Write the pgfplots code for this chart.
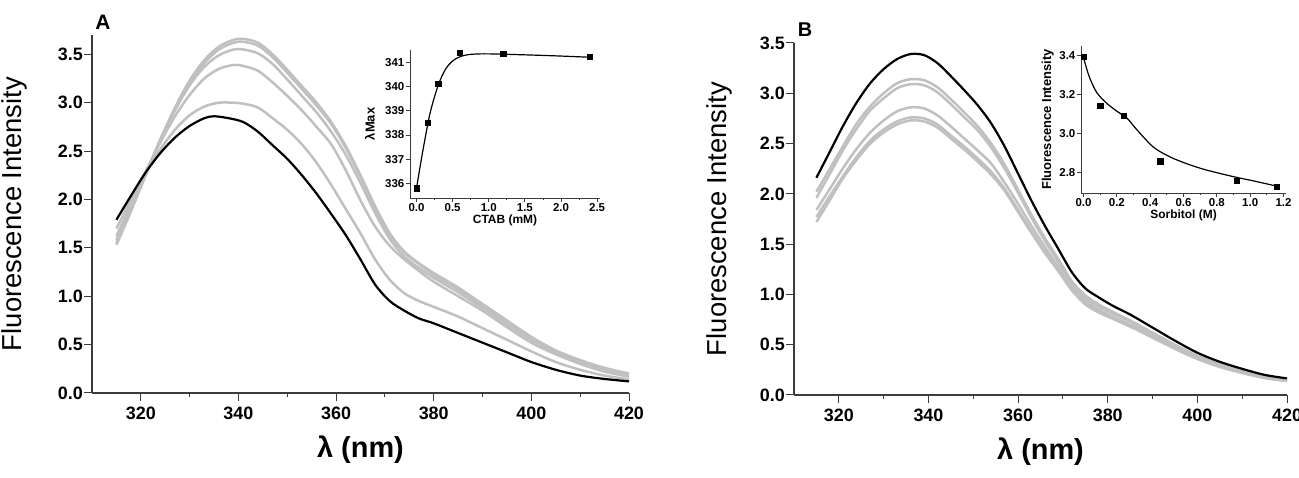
\documentclass[border=0pt]{standalone}
\usepackage{fontspec}
\setmainfont{Liberation Sans}
\usepackage{pgfplots}
\usepackage{pgfplotstable}
\pgfplotsset{compat=1.18}

\definecolor{lgray}{RGB}{192,192,192}
\definecolor{axgray}{RGB}{60,60,60}

\pgfplotstableread{
x g1 g2 g3 g4 g5
315 1.53 1.55 1.58 1.62 1.70
318 1.88 1.90 1.92 1.96 2.00
321 2.25 2.26 2.27 2.29 2.28
324 2.62 2.62 2.61 2.59 2.52
327 2.95 2.94 2.92 2.86 2.72
330 3.23 3.21 3.18 3.08 2.87
333 3.44 3.41 3.37 3.25 2.96
336 3.58 3.55 3.49 3.35 3.00
339 3.65 3.62 3.55 3.39 3.00
341 3.66 3.63 3.55 3.38 2.99
344 3.62 3.59 3.51 3.33 2.95
347 3.50 3.47 3.40 3.21 2.84
350 3.34 3.31 3.24 3.07 2.72
353 3.17 3.14 3.07 2.92 2.57
356 3.00 2.97 2.90 2.75 2.38
359 2.80 2.78 2.70 2.57 2.15
362 2.55 2.53 2.46 2.30 1.90
365 2.25 2.23 2.17 1.99 1.65
368 1.93 1.91 1.86 1.72 1.38
371 1.65 1.63 1.59 1.52 1.17
374 1.46 1.45 1.41 1.38 1.03
377 1.34 1.33 1.29 1.26 0.95
380 1.24 1.22 1.19 1.15 0.89
385 1.09 1.07 1.04 1.00 0.79
390 0.92 0.90 0.88 0.85 0.67
395 0.75 0.72 0.71 0.68 0.55
400 0.58 0.56 0.55 0.52 0.43
405 0.44 0.43 0.42 0.40 0.32
410 0.34 0.33 0.32 0.30 0.24
415 0.26 0.25 0.245 0.22 0.18
420 0.20 0.20 0.195 0.17 0.14
}\grayA

\pgfplotstableread{
x b
315 1.79
318 2.04
321 2.28
324 2.48
327 2.64
330 2.76
333 2.84
335 2.86
338 2.84
341 2.80
344 2.70
347 2.56
350 2.42
353 2.25
356 2.06
359 1.85
362 1.63
365 1.38
368 1.12
371 0.95
374 0.85
377 0.77
380 0.72
385 0.62
390 0.52
395 0.42
400 0.32
405 0.24
410 0.18
415 0.145
420 0.12
}\blackA

\pgfplotstableread{
x b g1 g2 g3 g4 g5
315 2.16 2.02 1.96 1.84 1.77 1.72
318 2.42 2.25 2.20 2.05 1.98 1.94
321 2.68 2.48 2.44 2.26 2.18 2.16
324 2.91 2.70 2.65 2.45 2.37 2.34
327 3.10 2.87 2.83 2.61 2.53 2.50
330 3.24 3.00 2.95 2.73 2.64 2.61
333 3.34 3.10 3.05 2.82 2.72 2.69
336 3.39 3.14 3.09 2.86 2.76 2.73
339 3.38 3.13 3.08 2.85 2.75 2.72
342 3.30 3.06 3.01 2.78 2.69 2.66
345 3.17 2.94 2.89 2.67 2.58 2.55
348 3.03 2.81 2.76 2.55 2.47 2.44
351 2.88 2.67 2.63 2.43 2.35 2.32
354 2.70 2.50 2.46 2.30 2.22 2.19
357 2.47 2.29 2.25 2.11 2.05 2.03
360 2.20 2.04 2.01 1.90 1.84 1.82
363 1.93 1.79 1.76 1.68 1.63 1.61
366 1.68 1.56 1.53 1.47 1.43 1.41
369 1.45 1.35 1.32 1.27 1.24 1.23
372 1.22 1.13 1.11 1.07 1.05 1.04
375 1.06 0.99 0.96 0.93 0.91 0.90
378 0.97 0.90 0.88 0.85 0.83 0.82
381 0.89 0.83 0.81 0.78 0.77 0.76
385 0.80 0.74 0.73 0.70 0.69 0.68
390 0.67 0.62 0.61 0.59 0.58 0.57
395 0.54 0.50 0.49 0.48 0.46 0.46
400 0.42 0.39 0.38 0.37 0.36 0.36
405 0.33 0.31 0.30 0.29 0.28 0.28
410 0.26 0.24 0.24 0.23 0.22 0.22
415 0.20 0.19 0.18 0.176 0.17 0.17
420 0.165 0.153 0.15 0.145 0.14 0.14
}\tabB

\pgfplotsset{
  mainax/.style={
    scale only axis,
    axis lines=left,
    axis line style={-, line width=1.1bp, axgray},
    every tick/.style={line width=1bp, axgray},
    tick align=outside,
    major tick length=8bp,
    minor tick length=4bp,
    xmin=310, xmax=420,
    xtick={320,340,...,420},
    minor x tick num=1,
    ymin=0,
    ytick={0,0.5,...,3.5},
    /pgf/number format/assume math mode=true,
    tick label style={font=\bfseries\fontsize{18}{18}\selectfont},
    yticklabel style={/pgf/number format/.cd, fixed, fixed zerofill, precision=1, /tikz/.cd, inner sep=1bp},
    xticklabel style={yshift=-2bp},
    xlabel={λ (nm)},
    xlabel style={font=\bfseries\fontsize{29}{29}\selectfont, at={(axis description cs:0.5,0)}, anchor=north, inner sep=0pt, yshift=-43bp},
    ylabel={Fluorescence Intensity},
    ylabel style={font=\fontsize{27.5}{27.5}\selectfont, at={(axis description cs:0,0.5)}, anchor=south, inner sep=0pt},
    clip=false,
  },
  inax/.style={
    scale only axis,
    axis lines=left,
    axis line style={-, line width=0.9bp, axgray},
    every tick/.style={line width=0.8bp, axgray},
    tick align=outside,
    major tick length=4bp,
    minor tick length=2.5bp,
    minor x tick num=1,
    /pgf/number format/assume math mode=true,
    tick label style={font=\bfseries\fontsize{11.5}{12}\selectfont, inner sep=1.5bp},
    ticklabel style={/pgf/number format/.cd, fixed, fixed zerofill, precision=1},
    xlabel style={font=\bfseries\fontsize{12}{12}\selectfont, at={(axis description cs:0.5,0)}, anchor=north, inner sep=0pt, yshift=-17bp},
    ylabel style={font=\fontsize{13}{13}\selectfont, at={(axis description cs:0,0.5)}, anchor=south, inner sep=0pt},
  },
}

\begin{document}
\begin{tikzpicture}[x=1bp,y=1bp]
\useasboundingbox (0,0) rectangle (1299,478);

% ---------------- Panel A ----------------
\begin{axis}[mainax, at={(92bp,85bp)}, anchor=south west,
  width=537bp, height=358bp, ymax=3.7,
  ylabel style={yshift=65bp}]
\addplot[lgray, line width=2.5bp, smooth] table[x=x,y=g5]{\grayA};
\addplot[lgray, line width=2.5bp, smooth] table[x=x,y=g4]{\grayA};
\addplot[lgray, line width=2.5bp, smooth] table[x=x,y=g3]{\grayA};
\addplot[lgray, line width=2.5bp, smooth] table[x=x,y=g2]{\grayA};
\addplot[lgray, line width=2.5bp, smooth] table[x=x,y=g1]{\grayA};
\addplot[black, line width=2.2bp, smooth] table[x=x,y=b]{\blackA};
\end{axis}
\node[font=\bfseries\fontsize{21}{21}\selectfont] at (103,456) {A};

\begin{axis}[inax, at={(410bp,280bp)}, anchor=south west,
  width=190bp, height=148bp,
  xmin=-0.09, xmax=2.54, ymin=335.4, ymax=341.5,
  xtick={0,0.5,...,2.5}, ytick={336,337,...,341},
  yticklabel style={/pgf/number format/.cd, fixed, precision=0},
  xlabel={CTAB (mM)}, ylabel={λMax},
  ylabel style={font=\bfseries\fontsize{13}{13}\selectfont, yshift=35bp}]
\addplot[black, line width=1.2bp, smooth] coordinates {
(0,335.8) (0.05,336.7) (0.1,337.55) (0.15,338.35) (0.2,339.05) (0.3,340.05)
(0.4,340.7) (0.5,341.05) (0.6,341.22) (0.7,341.3) (0.8,341.33) (1.0,341.34)
(1.5,341.3) (2.0,341.25) (2.4,341.2)};
\addplot[only marks, mark=square*, mark size=2.6bp, black] coordinates {
(0,335.8) (0.15,338.5) (0.3,340.1) (0.6,341.4) (1.2,341.35) (2.4,341.22)};
\end{axis}

% ---------------- Panel B ----------------
\begin{axis}[mainax, at={(794bp,83bp)}, anchor=south west,
  width=493bp, height=352bp, ymax=3.5,
  ylabel style={yshift=62bp}]
\addplot[lgray, line width=2.5bp, smooth] table[x=x,y=g5]{\tabB};
\addplot[lgray, line width=2.5bp, smooth] table[x=x,y=g4]{\tabB};
\addplot[lgray, line width=2.5bp, smooth] table[x=x,y=g3]{\tabB};
\addplot[lgray, line width=2.5bp, smooth] table[x=x,y=g2]{\tabB};
\addplot[lgray, line width=2.5bp, smooth] table[x=x,y=g1]{\tabB};
\addplot[black, line width=2.2bp, smooth] table[x=x,y=b]{\tabB};
\end{axis}
\node[font=\bfseries\fontsize{20}{20}\selectfont] at (805,448) {B};

\begin{axis}[inax, at={(1081bp,285bp)}, anchor=south west,
  width=205bp, height=147bp,
  xmin=-0.015, xmax=1.215, ymin=2.695, ymax=3.45,
  xtick={0,0.2,...,1.2}, ytick={2.8,3.0,3.2,3.4},
  xlabel={Sorbitol (M)}, ylabel={Fluorescence Intensity},
  ylabel style={font=\bfseries\fontsize{13}{13}\selectfont, yshift=27bp}]
\addplot[black, line width=1.2bp, smooth] coordinates {
(0,3.39) (0.02,3.33) (0.04,3.28) (0.08,3.21) (0.14,3.155) (0.2,3.115)
(0.26,3.08) (0.32,3.02) (0.42,2.93) (0.52,2.88) (0.62,2.845) (0.72,2.817)
(0.82,2.795) (0.92,2.775) (1.02,2.757) (1.16,2.73)};
\addplot[only marks, mark=square*, mark size=2.6bp, black] coordinates {
(0,3.395) (0.1,3.143) (0.24,3.09) (0.46,2.858) (0.92,2.76) (1.16,2.728)};
\end{axis}
\end{tikzpicture}
\end{document}
